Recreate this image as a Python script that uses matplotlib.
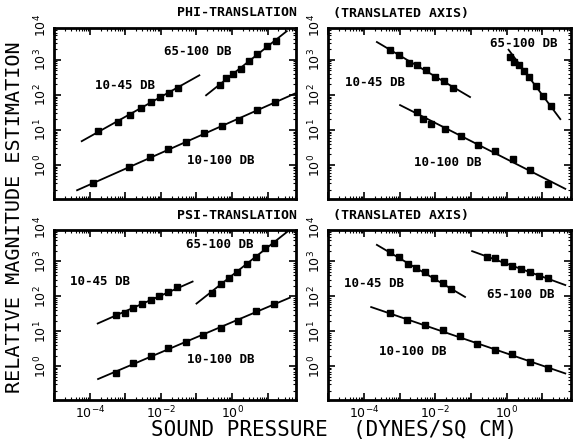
import numpy as np
import matplotlib
matplotlib.use('Agg')
import matplotlib.pyplot as plt
from matplotlib.ticker import FixedLocator, FuncFormatter, LogLocator, NullFormatter

plt.rcParams['mathtext.default'] = 'regular'
plt.rcParams['font.family'] = ['DejaVu Sans']

# all values are log10 of sound pressure (x) and magnitude estimate (y)
# phi-translation, left panel
phi_l_low_x = [-3.77, -3.20, -2.87, -2.56, -2.28, -2.03, -1.77, -1.53]
phi_l_low_y = [0.96, 1.23, 1.44, 1.64, 1.80, 1.93, 2.06, 2.20]
phi_l_low_fit = ([-4.23, -0.92], [0.68, 2.56])
phi_l_high_x = [-0.34, -0.17, 0.04, 0.25, 0.49, 0.71, 0.99, 1.24]
phi_l_high_y = [2.29, 2.47, 2.59, 2.74, 2.97, 3.18, 3.40, 3.54]
phi_l_high_fit = ([-0.73, 1.54], [1.99, 3.82])
phi_l_full_x = [-3.92, -2.89, -2.31, -1.79, -1.30, -0.79, -0.29, 0.21, 0.70, 1.21]
phi_l_full_y = [-0.52, -0.05, 0.23, 0.47, 0.65, 0.90, 1.10, 1.29, 1.57, 1.80]
phi_l_full_fit = ([-4.36, 1.77], [-0.72, 2.04])

# phi-translation, right panel (translated axis)
phi_r_low_x = [-3.27, -3.02, -2.74, -2.51, -2.25, -2.02, -1.77, -1.52]
phi_r_low_y = [3.29, 3.13, 2.92, 2.85, 2.71, 2.51, 2.39, 2.21]
phi_r_low_fit = ([-3.64, -1.03], [3.51, 1.94])
phi_r_high_x = [0.08, 0.19, 0.33, 0.47, 0.61, 0.82, 1.01, 1.23]
phi_r_high_y = [3.08, 2.95, 2.86, 2.69, 2.52, 2.26, 1.97, 1.69]
phi_r_high_fit = ([0.05, 1.50], [3.29, 1.31])
phi_r_full_x = [-2.52, -2.35, -2.11, -1.74, -1.29, -0.80, -0.33, 0.17, 0.66, 1.15]
phi_r_full_y = [1.51, 1.32, 1.18, 1.02, 0.83, 0.56, 0.39, 0.16, -0.13, -0.55]
phi_r_full_fit = ([-2.99, 1.64], [1.71, -0.68])

# psi-translation, left panel
psi_l_low_x = [-3.27, -3.01, -2.78, -2.54, -2.29, -2.05, -1.79, -1.56]
psi_l_low_y = [1.47, 1.53, 1.66, 1.77, 1.89, 2.01, 2.12, 2.27]
psi_l_low_fit = ([-3.78, -1.11], [1.22, 2.42])
psi_l_high_x = [-0.55, -0.32, -0.08, 0.15, 0.43, 0.68, 0.93, 1.18]
psi_l_high_y = [2.09, 2.36, 2.51, 2.68, 2.91, 3.13, 3.37, 3.51]
psi_l_high_fit = ([-1.00, 1.56], [1.79, 3.85])
psi_l_full_x = [-3.27, -2.78, -2.29, -1.79, -1.30, -0.81, -0.32, 0.18, 0.68, 1.18]
psi_l_full_y = [-0.20, 0.08, 0.29, 0.51, 0.69, 0.89, 1.09, 1.29, 1.58, 1.79]
psi_l_full_fit = ([-3.77, 1.63], [-0.37, 1.96])

# psi-translation, right panel (translated axis)
psi_r_low_x = [-3.27, -3.02, -2.77, -2.54, -2.28, -2.04, -1.78, -1.55]
psi_r_low_y = [3.27, 3.11, 2.91, 2.82, 2.68, 2.51, 2.39, 2.20]
psi_r_low_fit = ([-3.64, -1.17], [3.47, 1.98])
psi_r_high_x = [-0.56, -0.33, -0.09, 0.16, 0.39, 0.64, 0.89, 1.15]
psi_r_high_y = [3.13, 3.08, 2.99, 2.87, 2.79, 2.68, 2.58, 2.53]
psi_r_high_fit = ([-0.97, 1.64], [3.29, 2.32])
psi_r_full_x = [-3.27, -2.79, -2.28, -1.80, -1.32, -0.83, -0.33, 0.16, 0.66, 1.15]
psi_r_full_y = [1.51, 1.31, 1.18, 1.03, 0.87, 0.63, 0.47, 0.34, 0.13, -0.04]
psi_r_full_fit = ([-3.80, 1.64], [1.69, -0.21])

series_names = ['10-45 DB', '65-100 DB', '10-100 DB']

W, H = 576, 445
fig = plt.figure(figsize=(W / 100, H / 100), dpi=100)


def panel(rect_px, series, label_pos, xlabels):
    l, t, r, b = rect_px
    ax = fig.add_axes([l / W, 1 - b / H, (r - l) / W, (b - t) / H])
    for (xs, ys, fit) in series:
        ax.plot(10.0 ** np.array(fit[0]), 10.0 ** np.array(fit[1]), color='black', lw=1.3)
        ax.plot(10.0 ** np.array(xs), 10.0 ** np.array(ys), 's', color='black', ms=4)
    ax.set_xscale('log')
    ax.set_yscale('log')
    ax.set_xlim(10 ** -5.01, 10 ** 1.80)
    ax.set_ylim(10 ** -0.97, 10 ** 3.91)
    ax.xaxis.set_major_locator(FixedLocator(10.0 ** np.arange(-5, 2)))
    ax.xaxis.set_minor_locator(LogLocator(base=10, subs=np.arange(2, 10), numticks=20))
    ax.xaxis.set_minor_formatter(NullFormatter())
    ax.xaxis.set_major_formatter(FuncFormatter(
        lambda v, p: '$10^{%d}$' % round(np.log10(v)) if round(np.log10(v)) in (-4, -2, 0) else ''))
    ax.yaxis.set_major_locator(FixedLocator(10.0 ** np.arange(0, 4)))
    ax.yaxis.set_minor_locator(LogLocator(base=10, subs=np.arange(2, 10), numticks=20))
    ax.yaxis.set_minor_formatter(NullFormatter())
    ax.yaxis.set_major_formatter(FuncFormatter(lambda v, p: '$10^{%d}$' % round(np.log10(v))))
    ax.tick_params(which='both', direction='in', top=True, right=True, labelsize=9)
    ax.tick_params(which='major', length=5, width=1.2)
    ax.tick_params(which='minor', length=2.5, width=0.8)
    ax.tick_params(axis='y', labelrotation=90)
    ax.tick_params(axis='x', labelbottom=xlabels)
    for lab in ax.get_yticklabels():
        lab.set_va('center')
    ax.text(-0.02, 10 ** 3.98, '$10^{4}$', transform=ax.get_yaxis_transform(),
            rotation=90, ha='right', va='center', fontsize=9)
    for sp in ax.spines.values():
        sp.set_linewidth(2)
    for name, (fx, fy) in zip(series_names, label_pos):
        ax.text(fx, fy, name, transform=ax.transAxes, ha='center', va='center',
                family='DejaVu Sans Mono', weight='bold', fontsize=9)
    return ax


panel((54, 28, 296, 199),
      [(phi_l_low_x, phi_l_low_y, phi_l_low_fit),
       (phi_l_high_x, phi_l_high_y, phi_l_high_fit),
       (phi_l_full_x, phi_l_full_y, phi_l_full_fit)],
      [(0.293, 0.665), (0.594, 0.860), (0.689, 0.226)], False)
panel((328, 28, 571, 199),
      [(phi_r_low_x, phi_r_low_y, phi_r_low_fit),
       (phi_r_high_x, phi_r_high_y, phi_r_high_fit),
       (phi_r_full_x, phi_r_full_y, phi_r_full_fit)],
      [(0.193, 0.684), (0.804, 0.908), (0.493, 0.216)], False)
panel((54, 229.5, 296, 400),
      [(psi_l_low_x, psi_l_low_y, psi_l_low_fit),
       (psi_l_high_x, psi_l_high_y, psi_l_high_fit),
       (psi_l_full_x, psi_l_full_y, psi_l_full_fit)],
      [(0.190, 0.696), (0.686, 0.911), (0.689, 0.240)], True)
panel((328, 229.5, 571, 400),
      [(psi_r_low_x, psi_r_low_y, psi_r_low_fit),
       (psi_r_high_x, psi_r_high_y, psi_r_high_fit),
       (psi_r_full_x, psi_r_full_y, psi_r_full_fit)],
      [(0.191, 0.684), (0.794, 0.618), (0.347, 0.283)], True)

mono = 'DejaVu Sans Mono'
for y_px, word in [(13, 'PHI-TRANSLATION'), (216, 'PSI-TRANSLATION')]:
    fig.text(297 / W, 1 - y_px / H, word, ha='right', va='center',
             family=mono, weight='bold', fontsize=9.5)
    fig.text(333 / W, 1 - y_px / H, '(TRANSLATED AXIS)', ha='left', va='center',
             family=mono, weight='bold', fontsize=9.5)
fig.text(15 / W, 1 - 217.5 / H, 'RELATIVE MAGNITUDE ESTIMATION', rotation=90, ha='center', va='center',
         family=mono, fontsize=14.5)
fig.text(334.5 / W, 1 - 430 / H, 'SOUND PRESSURE  (DYNES/SQ CM)', ha='center', va='center',
         family=mono, fontsize=15)

fig.savefig('out.png', dpi=100)
